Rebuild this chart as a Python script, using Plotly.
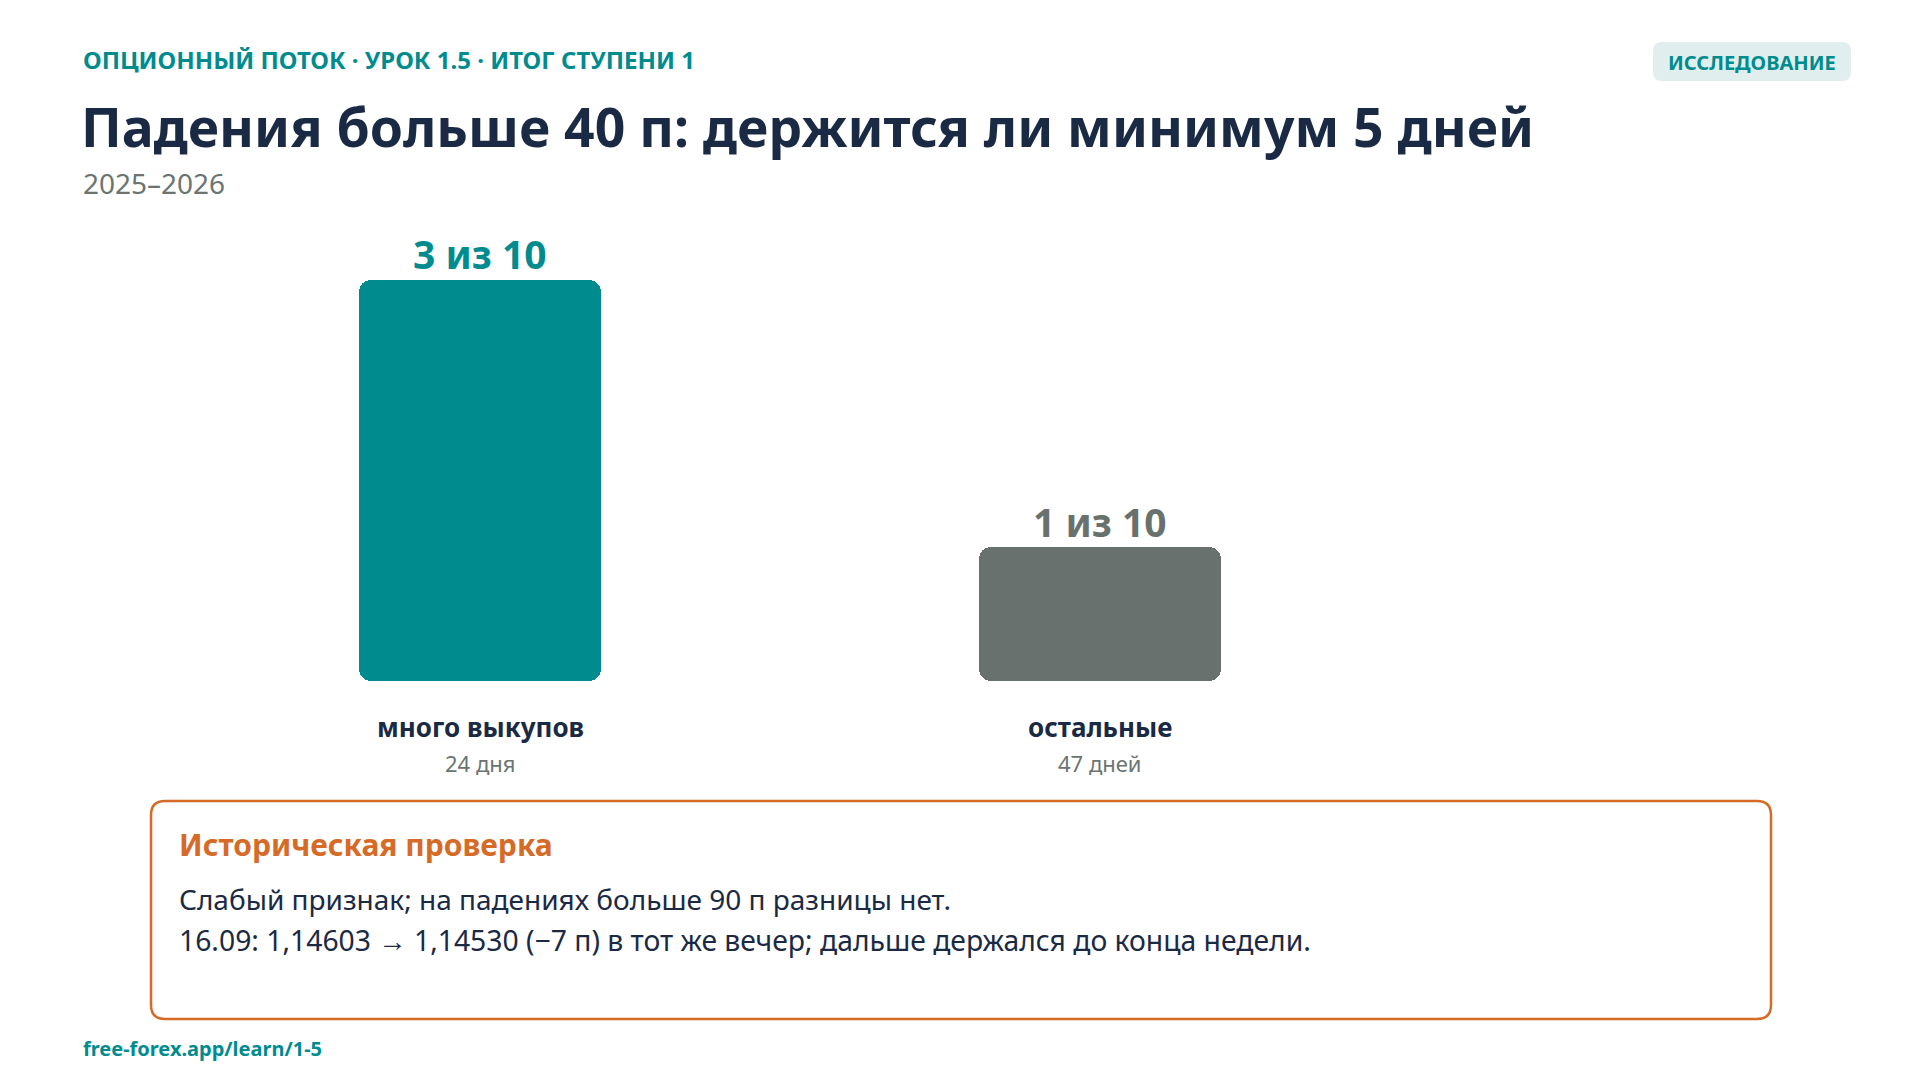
import plotly.graph_objects as go

# ---- data ----
categories = ["много выкупов", "остальные"]
values = [3, 1]
value_labels = ["3 из 10", "1 из 10"]
sample_labels = ["24 дня", "47 дней"]

eyebrow = "ОПЦИОННЫЙ ПОТОК · УРОК 1.5 · ИТОГ СТУПЕНИ 1"
title = "Падения больше 40 п: держится ли минимум 5 дней"
subtitle = "2025–2026"
badge = "ИССЛЕДОВАНИЕ"
note_title = "Историческая проверка"
note_lines = [
    "Слабый признак; на падениях больше 90 п разницы нет.",
    "16.09: 1,14603 → 1,14530 (−7 п) в тот же вечер; дальше держался до конца недели.",
]
footer = "free-forex.app/learn/1-5"

# ---- styles ----
TEAL = "#008b8f"
GRAY_BAR = "#68716e"
GRAY_TXT = "#6b7470"
NAVY = "#1b2a44"
ORANGE = "#d66a27"
BADGE_BG = "#e0efee"
FONT = "Noto Sans"
bar_colors = [TEAL, GRAY_BAR]
label_colors = [TEAL, GRAY_BAR]

W, H = 1920, 1080
OFF = 8  # page body margin compensation


def px(x):
    return (x - OFF) / W


def py(y):
    return 1 - (y - OFF) / H


def rounded_path(x0, y0, x1, y1, r):
    X = lambda v: f"{px(v):.5f}"
    Y = lambda v: f"{py(v):.5f}"
    return (
        f"M {X(x0 + r)},{Y(y0)} L {X(x1 - r)},{Y(y0)} Q {X(x1)},{Y(y0)} {X(x1)},{Y(y0 + r)} "
        f"L {X(x1)},{Y(y1 - r)} Q {X(x1)},{Y(y1)} {X(x1 - r)},{Y(y1)} "
        f"L {X(x0 + r)},{Y(y1)} Q {X(x0)},{Y(y1)} {X(x0)},{Y(y1 - r)} "
        f"L {X(x0)},{Y(y0 + r)} Q {X(x0)},{Y(y0)} {X(x0 + r)},{Y(y0)} Z"
    )


fig = go.Figure()

# lower part (rounded at the bottom end)
fig.add_trace(go.Bar(
    x=categories,
    base=[v * 0.8 for v in values],
    y=[-v * 0.8 for v in values],
    marker=dict(color=bar_colors, line=dict(width=0), cornerradius=12),
    width=0.389,
    hoverinfo="skip",
    showlegend=False,
))
# upper part (rounded at the top end)
fig.add_trace(go.Bar(
    x=categories,
    base=[v * 0.2 for v in values],
    y=[v * 0.8 for v in values],
    marker=dict(color=bar_colors, line=dict(width=0), cornerradius=12),
    width=0.389,
    hoverinfo="skip",
    showlegend=False,
))

annotations = []
for cat, v, lab, col, sub in zip(categories, values, value_labels, label_colors, sample_labels):
    annotations.append(dict(x=cat, y=v, xref="x", yref="y", text=f"<b>{lab}</b>",
                            showarrow=False, yanchor="middle", yshift=26,
                            font=dict(family=FONT, size=39, color=col)))
    annotations.append(dict(x=cat, y=0, xref="x", yref="y", text=f"<b>{cat}</b>",
                            showarrow=False, yanchor="middle", yshift=-46,
                            font=dict(family=FONT, size=26, color=NAVY)))
    annotations.append(dict(x=cat, y=0, xref="x", yref="y", text=sub,
                            showarrow=False, yanchor="middle", yshift=-82,
                            font=dict(family=FONT, size=22, color=GRAY_TXT)))

annotations += [
    dict(x=px(81), y=py(59), xref="paper", yref="paper", xanchor="left", yanchor="middle",
         text=f"<b>{eyebrow}</b>", showarrow=False, font=dict(family=FONT, size=24, color=TEAL)),
    dict(x=px(79), y=py(126), xref="paper", yref="paper", xanchor="left", yanchor="middle",
         text=f"<b>{title}</b>", showarrow=False, font=dict(family=FONT, size=53.5, color=NAVY)),
    dict(x=px(81), y=py(183), xref="paper", yref="paper", xanchor="left", yanchor="middle",
         text=subtitle, showarrow=False, font=dict(family=FONT, size=28, color=GRAY_TXT)),
    dict(x=px(1752), y=py(62), xref="paper", yref="paper", xanchor="center", yanchor="middle",
         text=f"<b>{badge}</b>", showarrow=False, font=dict(family=FONT, size=20, color=TEAL)),
    dict(x=px(177), y=py(844), xref="paper", yref="paper", xanchor="left", yanchor="middle",
         text=f"<b>{note_title}</b>", showarrow=False, font=dict(family=FONT, size=30, color=ORANGE)),
    dict(x=px(177), y=py(899), xref="paper", yref="paper", xanchor="left", yanchor="middle",
         text=note_lines[0], showarrow=False, font=dict(family=FONT, size=28, color=NAVY)),
    dict(x=px(177), y=py(940), xref="paper", yref="paper", xanchor="left", yanchor="middle",
         text=note_lines[1], showarrow=False, font=dict(family=FONT, size=28.3, color=NAVY)),
    dict(x=px(81), y=py(1048), xref="paper", yref="paper", xanchor="left", yanchor="middle",
         text=f"<b>{footer}</b>", showarrow=False, font=dict(family=FONT, size=20, color=TEAL)),
]

shapes = [
    dict(type="path", xref="paper", yref="paper", path=rounded_path(1653, 42, 1851, 81, 9),
         fillcolor=BADGE_BG, line=dict(width=0), layer="below"),
    dict(type="path", xref="paper", yref="paper", path=rounded_path(151, 801, 1771, 1019, 14),
         fillcolor="rgba(0,0,0,0)", line=dict(color=ORANGE, width=2.5), layer="above"),
]

# x axis: category centres at 480 and 1100 px on the page (620 px per category)
x0_page = 480 - OFF
fig.update_layout(
    width=W, height=H, autosize=False,
    margin=dict(l=0, r=0, t=0, b=0),
    paper_bgcolor="white", plot_bgcolor="white",
    barmode="overlay",
    bargap=0,
    xaxis=dict(type="category", range=[-x0_page / 620, (W - x0_page) / 620], domain=[0, 1],
               showgrid=False, zeroline=False, showticklabels=False, showline=False, fixedrange=True),
    yaxis=dict(range=[0, 3.5], domain=[py(681), py(213)],
               showgrid=False, zeroline=False, showticklabels=False, showline=False, fixedrange=True),
    annotations=annotations,
    shapes=shapes,
    font=dict(family=FONT),
    showlegend=False,
)

fig.write_html("out.html")
